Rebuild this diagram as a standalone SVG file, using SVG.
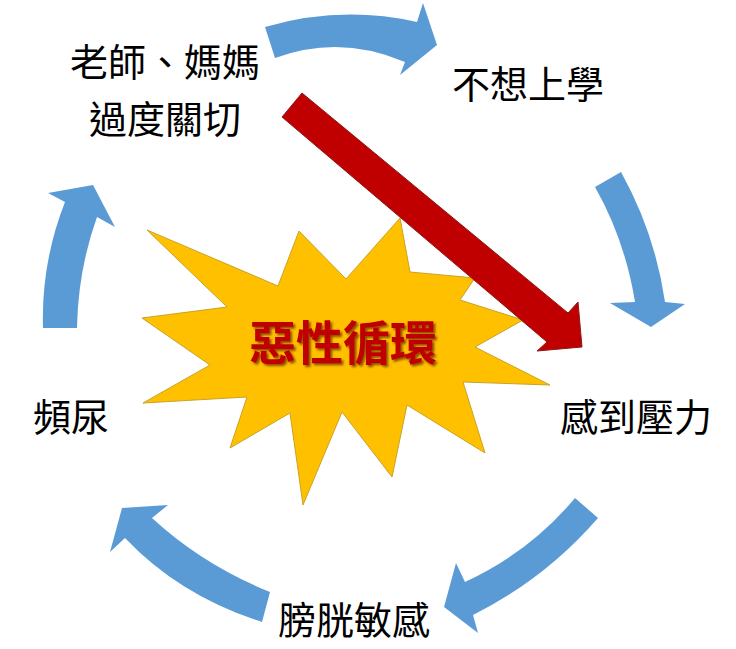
<svg xmlns="http://www.w3.org/2000/svg" width="736" height="649" viewBox="0 0 736 649">
<defs>
<style>
.lbl{font-family:"Noto Sans CJK TC","Noto Sans CJK SC",sans-serif;font-size:38px;font-weight:normal;fill:#000;text-anchor:middle}
.blue{fill:#5B9BD5;stroke:none}
.red{fill:#C00000;stroke:#8B1A1A;stroke-width:1}
.star{fill:#FFC000;stroke:#C9A227;stroke-width:1}
.title{font-family:"Noto Sans CJK TC","Noto Sans CJK SC",sans-serif;font-size:47px;font-weight:bold;fill:#C00000;text-anchor:middle}
</style>
<filter id="sh" x="-10%" y="-10%" width="130%" height="140%">
<feDropShadow dx="2" dy="2" stdDeviation="1.2" flood-color="#6B2A00" flood-opacity="0.75"/>
</filter>
</defs>
<rect width="736" height="649" fill="#fff"/>
<g id="center">
<polygon class="star" points="147,230 278,286 299,231 346,279 400,218 410,272 475,278 460,300 523,320 475,347 550,385 463,382 485,453 407,405 392,477 342,412 303,505 290,413 230,448 247,397 143,403 210,365 142,318 227,307"/>
</g>
<g id="connectors">
<path class="blue" d="M265,27 Q341,5 417,22 L423,3 L437,45 L400,75 L405,62 Q340,34 275,58 Z"/>
<path class="blue" d="M621,172 Q655,233 665,302 L685,304 L651,327 L610,303 L635,302 Q625,240 595,187 Z"/>
<path class="blue" d="M598,518 Q545,579 473,615 L478,633 L444,607 L456,563 L465,582 Q530,552 575,498 Z"/>
<path class="blue" d="M262,622 Q180,596 125,538 L110,552 L122,508 L168,505 L152,518 Q203,565 270,592 Z"/>
<path class="blue" d="M43,328 Q41,263 65,202 L48,193 L93,185 L115,227 L97,217 Q78,270 77,328 Z"/>
<polygon class="red" points="302,93 568,313 578,302 582,347 537,351 547,342 282,117"/>
</g>
<g id="title">
<text class="title" x="343" y="360" filter="url(#sh)">惡性循環</text>
</g>
<g id="n-teacher">
<text class="lbl" x="165" y="76">老師、媽媽</text>
<text class="lbl" x="165" y="133">過度關切</text>
</g>
<g id="n-school">
<text class="lbl" x="528" y="98">不想上學</text>
</g>
<g id="n-stress">
<text class="lbl" x="636" y="431">感到壓力</text>
</g>
<g id="n-bladder">
<text class="lbl" x="354" y="634">膀胱敏感</text>
</g>
<g id="n-freq">
<text class="lbl" x="71" y="431">頻尿</text>
</g>
</svg>
